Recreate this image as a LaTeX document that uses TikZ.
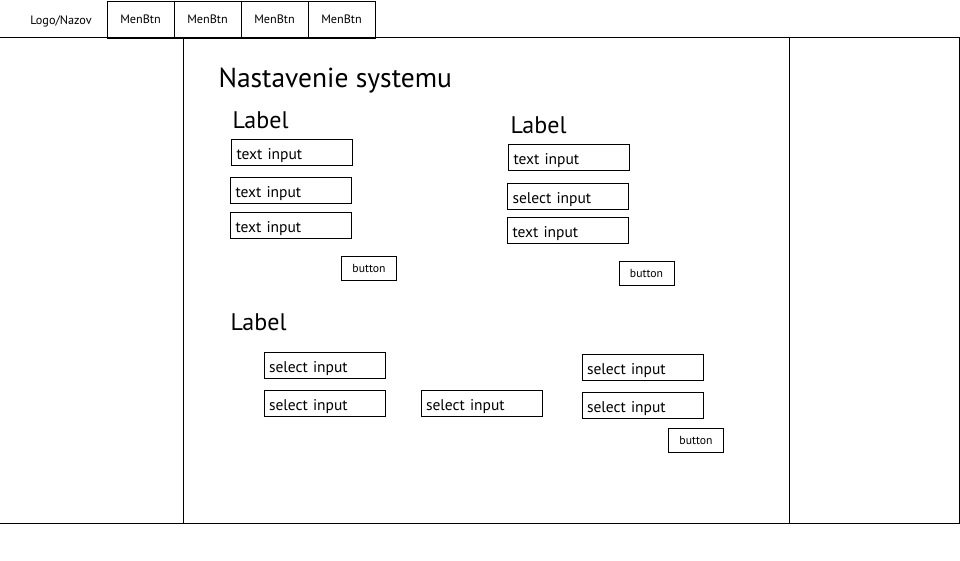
\documentclass[tikz,border=0pt]{standalone}
\usepackage{fontspec}
\setmainfont{PT Sans}
\begin{document}
\begin{tikzpicture}[x=1pt,y=-1pt,line width=1pt,
  menubtn/.style={draw,rectangle,anchor=north west,minimum width=67pt,minimum height=37pt,inner sep=0pt,font=\fontsize{12.2}{14}\selectfont},
  inbox/.style={draw,rectangle,anchor=north west,text width=111pt,inner xsep=5pt,inner ysep=0pt,minimum height=26pt,text height=16pt,text depth=2pt,align=left,font=\fontsize{15.5}{18}\selectfont},
  btnbox/.style={draw,rectangle,anchor=north west,minimum width=55pt,minimum height=24pt,inner sep=0pt,font=\fontsize{11.7}{13}\selectfont},
  lbl/.style={anchor=base west,inner sep=0pt,font=\fontsize{24}{28}\selectfont},
  ]
\useasboundingbox (0,0) rectangle (960,560);
% frame
\draw (0,37) -- (959,37) -- (959,523) -- (0,523);
\draw (183,37) -- (183,523);
\draw (789,37) -- (789,523);
% top bar
\node[anchor=base,inner sep=0pt,font=\fontsize{12.2}{14}\selectfont] (logo) at (61,24) {Logo/Nazov};
\node[menubtn] (m1) at (106.5,0.5) {MenBtn};
\node[menubtn] (m2) at (173.5,0.5) {MenBtn};
\node[menubtn] (m3) at (240.5,0.5) {MenBtn};
\node[menubtn] (m4) at (307.5,0.5) {MenBtn};
% title
\node[anchor=base west,inner sep=0pt,font=\fontsize{27.5}{32}\selectfont] (title) at (218,87) {Nastavenie systemu};
% group 1
\node[lbl] (l1) at (232,128) {Label};
\node[inbox] (t11) at (231,139) {text input};
\node[inbox] (t12) at (230,177) {text input};
\node[inbox] (t13) at (230,212) {text input};
\node[btnbox] (b1) at (341,256) {button};
% group 2
\node[lbl] (l2) at (510,133) {Label};
\node[inbox] (t21) at (508,143.5) {text input};
\node[inbox] (t22) at (507,182.5) {select input};
\node[inbox] (t23) at (507,216.5) {text input};
\node[btnbox] (b2) at (618.5,260.5) {button};
% group 3
\node[lbl] (l3) at (230,330) {Label};
\node[inbox] (s1) at (263.5,351.5) {select input};
\node[inbox] (s2) at (263.5,389.5) {select input};
\node[inbox] (s3) at (420.5,389.5) {select input};
\node[inbox] (s4) at (581.5,354) {select input};
\node[inbox] (s5) at (581.5,391.5) {select input};
\node[btnbox] (b3) at (668,427.5) {button};
\end{tikzpicture}
\end{document}
